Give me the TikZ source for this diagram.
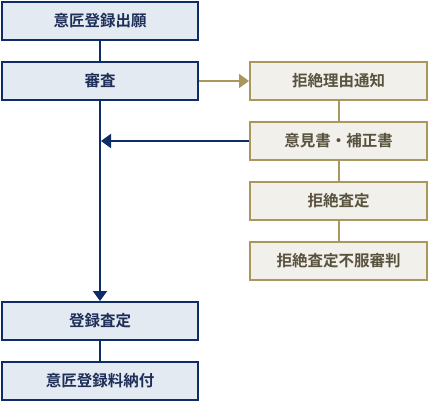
\documentclass[tikz,border=0pt]{standalone}
\usepackage{fontspec}
\setmainfont{Noto Sans CJK JP}[BoldFont={* Bold}]
\usetikzlibrary{arrows.meta}
\definecolor{navy}{HTML}{0E2C66}
\definecolor{navyfill}{HTML}{E3EAF2}
\definecolor{navytext}{HTML}{1E2E58}
\definecolor{gold}{HTML}{A8975E}
\definecolor{goldfill}{HTML}{F2F0EA}
\definecolor{goldtext}{HTML}{58523E}
\begin{document}
\begin{tikzpicture}[x=1pt,y=-1pt,
  lbox/.style={draw=navy,fill=navyfill,line width=2pt,minimum width=196pt,minimum height=38pt,inner sep=0pt,text=navytext,font=\fontsize{15.5}{17}\selectfont\bfseries},
  rbox/.style={draw=gold,fill=goldfill,line width=2pt,minimum width=177pt,minimum height=38pt,inner sep=0pt,text=goldtext,font=\fontsize{15.5}{17}\selectfont\bfseries},
  nline/.style={draw=navy,line width=2pt},
  gline/.style={draw=gold,line width=2pt},
  ntip/.style={-{Triangle[length=10pt,width=14pt]}},
]
\useasboundingbox (0,0) rectangle (429,402);
\node[lbox] (a) at (100,21) {意匠登録出願};
\node[lbox] (b) at (100,81) {審査};
\node[lbox] (c) at (100,321) {登録査定};
\node[lbox] (d) at (100,381) {意匠登録料納付};
\node[rbox] (r1) at (338.5,81) {拒絶理由通知};
\node[rbox] (r2) at (338.5,141) {意見書・補正書};
\node[rbox] (r3) at (338.5,201) {拒絶査定};
\node[rbox] (r4) at (338.5,261) {拒絶査定不服審判};
\coordinate (m) at (101,141);
\draw[nline] (a) -- (b);
\draw[nline,ntip] (b) -- (c);
\draw[nline] (c) -- (d);
\draw[gline,ntip] (b) -- (r1);
\draw[gline] (r1) -- (r2);
\draw[gline] (r2) -- (r3);
\draw[gline] (r3) -- (r4);
\draw[nline,ntip] (r2.west) -- (m);
\end{tikzpicture}
\end{document}
